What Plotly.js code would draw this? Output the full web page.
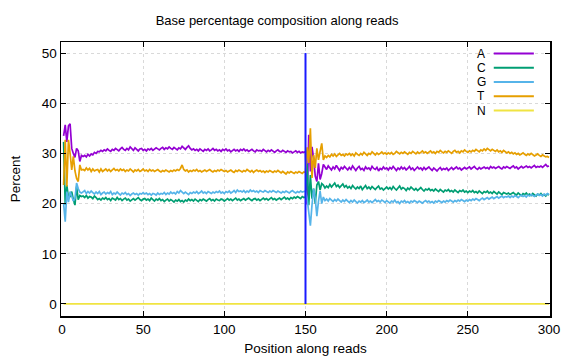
<!DOCTYPE html>
<html>
<head>
<meta charset="utf-8">
<script src="https://cdn.plot.ly/plotly-3.0.1.min.js"></script>
<style>html,body{margin:0;padding:0;background:#fff;}#chart{width:576px;height:360px;}</style>
</head>
<body>
<div id="chart"></div>
<script>
// Positions along reads start at 1 and step by 1
const startPos = 1;
const stepPos = 1;

const baseA = [
33.5,35.7,32.3,35.5,35.9,31.0,30.0,29.2,31.0,30.5,28.4,29.6,29.4,29.6,29.3,29.8,29.5,29.9,29.7,30.2,30.0,30.4,30.3,30.6,30.4,
30.7,30.5,30.9,30.6,30.4,30.8,30.6,31.0,30.7,30.5,30.9,31.2,30.8,30.6,31.0,30.7,31.3,30.9,30.6,31.1,30.8,30.5,30.9,31.0,30.6,
30.8,30.5,30.9,30.7,31.0,30.6,30.8,31.1,30.9,30.7,31.0,31.2,30.8,31.1,30.9,31.3,31.0,30.8,31.2,31.0,30.7,31.1,30.9,31.4,31.0,
30.8,31.2,31.5,31.0,30.7,30.9,30.6,30.8,30.5,30.9,30.7,30.4,30.8,30.6,30.9,30.5,30.7,31.0,30.6,30.8,30.5,30.7,30.4,30.8,30.6,
30.9,30.5,30.7,30.3,30.6,30.8,30.5,30.7,30.4,30.8,30.6,30.9,30.5,30.7,30.4,30.6,30.8,30.5,30.3,30.7,30.5,30.6,30.4,30.8,30.5,
30.3,30.6,30.4,30.7,30.5,30.2,30.5,30.7,30.4,30.3,30.6,30.4,30.2,30.5,30.3,30.4,30.1,30.3,30.5,30.2,30.4,30.1,30.3,30.2,30.4,
19.8,33.7,26.4,31.3,29.0,25.5,24.4,28.0,24.8,26.0,27.8,27.2,26.8,27.5,27.1,26.7,27.3,26.9,27.6,27.0,26.6,27.2,26.9,27.4,27.0,
26.7,27.2,26.8,27.5,27.0,26.6,27.1,27.4,26.8,27.0,26.6,27.3,26.9,27.1,26.7,27.4,27.0,26.8,27.2,26.5,27.0,26.8,27.3,26.9,27.1,
26.7,27.2,26.9,27.4,27.0,26.6,27.1,26.8,27.3,26.9,27.2,26.7,27.0,27.4,26.8,27.1,26.6,27.0,27.3,26.9,27.1,26.7,27.2,26.8,27.0,
27.3,26.9,26.6,27.1,26.8,26.5,26.9,27.2,26.7,27.0,26.8,27.1,26.6,26.9,27.2,26.8,27.0,27.3,26.9,27.1,26.7,27.0,27.2,26.9,27.1,
27.3,26.9,27.1,27.4,27.0,26.8,27.2,26.9,27.1,27.3,27.0,27.2,26.9,27.4,27.1,27.3,27.0,27.2,27.4,27.1,26.9,27.3,27.1,27.4,27.2,
27.0,27.3,27.5,27.1,27.3,26.9,27.2,27.4,27.1,27.3,27.5,27.2,27.4,27.1,27.3,27.6,27.2,27.4,27.3,27.5,27.2,27.6,27.8,27.4,27.5
];

const baseC = [
32.3,19.7,23.7,21.1,21.4,22.4,20.8,19.7,23.4,20.8,21.6,21.4,21.5,21.2,21.6,21.1,21.4,21.3,21.0,21.5,21.2,20.8,21.0,20.7,21.1,
20.9,21.2,20.8,21.0,20.6,21.1,20.9,20.7,21.2,20.8,21.0,20.6,20.9,21.1,20.7,20.9,20.5,20.8,21.0,20.7,20.9,21.2,20.8,20.6,20.9,
21.0,20.7,20.9,20.6,21.1,20.8,20.5,20.9,20.7,21.0,20.6,20.8,20.4,20.7,20.9,20.5,20.8,20.6,20.3,20.7,20.5,20.8,20.4,20.6,20.3,
20.7,20.5,20.9,20.6,20.8,20.5,20.9,20.7,20.4,20.8,20.6,20.9,20.7,20.5,20.8,21.0,20.6,20.8,20.5,20.9,20.7,20.6,20.9,20.8,20.5,
20.8,21.0,20.7,20.9,20.6,20.8,21.1,20.7,20.9,20.6,20.8,21.0,20.7,20.9,21.1,20.8,20.6,20.9,21.0,20.7,20.9,20.6,20.8,21.1,20.8,
21.0,20.7,20.9,21.2,20.8,21.0,20.7,20.9,21.1,20.8,21.0,21.3,20.9,21.1,20.8,21.2,21.0,21.3,21.1,21.4,21.2,21.0,21.4,21.2,21.3,
28.0,19.7,25.7,21.0,23.0,20.0,23.7,24.4,22.7,24.0,23.7,23.1,23.5,23.2,23.8,23.3,23.6,24.1,23.4,23.7,23.2,23.5,23.9,23.3,23.6,
23.1,23.4,23.0,23.6,23.2,22.9,23.3,23.0,23.5,22.8,23.2,23.6,23.0,23.3,22.9,23.4,23.1,22.8,23.2,23.5,22.9,23.1,22.7,23.0,23.3,
22.9,23.2,22.8,23.4,23.0,22.7,23.1,23.5,22.9,23.2,23.0,22.6,23.1,22.8,23.3,22.9,22.7,23.0,22.6,22.9,23.2,22.8,22.5,22.9,22.7,
23.0,22.6,22.8,22.5,22.9,22.7,22.4,22.8,22.6,22.3,22.7,22.5,22.8,22.4,22.6,22.3,22.7,22.5,22.2,22.6,22.4,22.7,22.3,22.5,22.2,
22.5,22.3,22.6,22.2,22.4,22.1,22.5,22.3,22.0,22.4,22.2,22.5,22.1,22.3,22.0,22.4,22.2,21.9,22.3,22.1,21.8,22.2,22.0,21.9,22.1,
21.8,22.0,22.2,21.9,21.7,22.1,21.9,21.6,22.0,21.8,22.1,21.7,21.9,21.6,22.0,21.8,21.5,21.9,21.7,22.0,21.6,21.8,21.5,21.9,21.7
];

const baseG = [
20.1,16.4,22.4,20.3,22.4,21.4,20.5,21.0,24.1,23.0,22.3,22.1,22.3,22.6,22.0,22.4,22.1,22.5,22.2,21.9,22.3,22.0,22.4,21.8,22.1,
22.3,21.9,22.2,22.0,22.4,21.8,22.1,21.9,22.3,22.0,21.7,22.1,21.9,22.2,21.8,22.0,21.6,21.9,22.1,21.8,22.0,21.7,22.0,21.9,22.2,
21.9,22.1,21.8,22.0,21.7,22.0,21.9,21.7,22.1,21.8,22.0,21.9,22.2,21.8,22.1,21.9,22.3,22.0,22.2,21.9,22.4,22.1,22.6,22.2,22.0,
22.3,22.0,21.8,22.2,22.0,22.3,22.1,22.4,22.0,22.2,22.5,22.1,22.3,22.0,22.4,22.2,22.0,22.3,22.1,22.4,22.2,22.5,22.1,22.3,22.0,
22.4,22.2,22.5,22.1,22.3,22.6,22.2,22.7,22.4,22.5,22.3,22.6,22.2,22.5,22.3,22.7,22.4,22.6,22.3,22.5,22.2,22.6,22.4,22.3,22.6,
22.4,22.2,22.5,22.3,22.6,22.4,22.2,22.5,22.3,22.1,22.4,22.2,22.5,22.3,22.1,22.4,22.6,22.3,22.1,22.4,22.2,22.5,22.3,22.4,22.5,
21.0,18.5,15.6,19.7,23.0,21.0,17.5,20.5,22.5,20.0,21.3,20.6,20.9,20.5,21.0,20.7,20.4,20.8,20.5,20.9,20.6,20.3,20.7,20.4,20.8,
20.5,20.2,20.6,20.3,20.7,20.4,20.1,20.5,20.3,20.6,20.2,20.4,20.7,20.3,20.5,20.2,20.6,20.8,20.4,20.6,20.3,20.7,20.5,20.2,20.6,
20.4,20.1,20.5,20.3,20.7,20.2,20.4,20.0,20.5,20.3,20.6,20.2,20.4,20.1,20.5,20.3,20.6,20.4,20.2,20.5,20.3,20.1,20.4,20.6,20.3,
20.5,20.2,20.4,20.1,20.5,20.3,20.6,20.4,20.2,20.5,20.3,20.6,20.4,20.7,20.5,20.3,20.6,20.4,20.7,20.5,20.8,20.6,20.4,20.7,20.5,
20.8,20.6,20.9,20.7,21.0,20.8,20.6,20.9,21.1,20.8,21.0,21.2,20.9,21.1,21.3,21.0,21.2,21.4,21.1,21.3,21.5,21.2,21.4,21.3,21.5,
21.2,21.5,21.3,21.6,21.4,21.2,21.5,21.7,21.4,21.6,21.3,21.7,21.5,21.8,21.6,21.4,21.7,21.9,21.6,21.8,21.5,21.9,21.7,22.0,21.8
];

const baseT = [
23.7,32.7,23.4,32.7,30.0,26.7,29.4,26.5,25.0,24.4,27.7,26.7,26.8,26.6,27.1,26.7,27.0,26.4,26.9,26.5,26.7,26.8,26.3,26.9,26.4,
26.6,26.9,26.5,26.8,26.4,26.7,27.0,26.6,26.8,26.5,26.9,26.6,26.8,26.4,26.7,26.5,26.9,26.6,26.3,26.7,26.5,26.8,26.4,26.6,26.9,
26.5,26.7,26.4,26.8,26.5,26.7,26.4,26.6,26.8,26.5,26.3,26.6,26.4,26.7,26.5,26.3,26.6,26.4,26.7,26.5,26.8,26.6,27.0,27.7,26.8,
26.5,26.7,26.3,26.6,26.4,26.7,26.5,26.8,26.4,26.6,26.3,26.5,26.7,26.4,26.6,26.8,26.5,26.3,26.6,26.4,26.7,26.5,26.8,26.6,26.4,
26.6,26.3,26.5,26.7,26.4,26.2,26.6,26.4,26.7,26.5,26.3,26.6,26.4,26.8,26.5,26.3,26.6,26.2,26.5,26.7,26.4,26.6,26.3,26.5,26.2,
26.5,26.3,26.6,26.4,26.2,26.5,26.3,26.6,26.4,26.1,26.4,26.2,25.9,26.3,26.1,26.4,26.2,26.0,26.3,26.1,26.4,26.2,26.0,26.3,26.2,
31.2,28.1,35.0,25.1,29.7,27.1,31.0,28.7,30.4,32.0,28.7,29.5,29.2,29.6,29.3,29.8,29.5,29.9,29.4,29.7,30.0,29.6,29.8,29.5,29.9,
29.7,30.0,29.6,29.9,29.5,30.1,29.8,29.6,30.0,29.7,30.2,29.9,29.6,30.0,29.8,30.3,29.9,29.7,30.1,29.8,30.0,30.3,29.9,30.1,29.8,
30.1,29.9,30.2,29.8,30.0,30.4,30.1,29.9,30.2,30.0,30.3,30.1,29.8,30.2,30.0,30.4,30.1,29.9,30.3,30.0,30.2,30.5,30.1,30.3,30.0,
30.2,30.5,30.1,30.3,30.0,30.4,30.2,30.6,30.3,30.1,30.4,30.2,30.5,30.3,30.0,30.4,30.6,30.2,30.4,30.1,30.5,30.3,30.7,30.4,30.2,
30.5,30.3,30.6,30.4,30.8,30.5,30.3,30.7,30.5,30.9,30.6,31.0,30.7,30.5,30.8,30.6,30.4,30.7,30.3,30.5,30.2,30.6,30.4,30.1,30.3,
30.0,30.2,29.9,30.1,29.8,30.0,29.7,29.9,30.1,29.8,29.6,29.9,29.7,30.0,29.8,29.5,29.7,29.9,29.6,29.4,29.7,29.5,29.3,29.4,29.2
];

const baseN = [
0,0,0,0,0,0,0,0,0,0,0,0,0,0,0,0,0,0,0,0,0,0,0,0,0,0,0,0,0,0,
0,0,0,0,0,0,0,0,0,0,0,0,0,0,0,0,0,0,0,0,0,0,0,0,0,0,0,0,0,0,
0,0,0,0,0,0,0,0,0,0,0,0,0,0,0,0,0,0,0,0,0,0,0,0,0,0,0,0,0,0,
0,0,0,0,0,0,0,0,0,0,0,0,0,0,0,0,0,0,0,0,0,0,0,0,0,0,0,0,0,0,
0,0,0,0,0,0,0,0,0,0,0,0,0,0,0,0,0,0,0,0,0,0,0,0,0,0,0,0,0,0,
0,0,0,0,0,0,0,0,0,0,0,0,0,0,0,0,0,0,0,0,0,0,0,0,0,0,0,0,0,0,
0,0,0,0,0,0,0,0,0,0,0,0,0,0,0,0,0,0,0,0,0,0,0,0,0,0,0,0,0,0,
0,0,0,0,0,0,0,0,0,0,0,0,0,0,0,0,0,0,0,0,0,0,0,0,0,0,0,0,0,0,
0,0,0,0,0,0,0,0,0,0,0,0,0,0,0,0,0,0,0,0,0,0,0,0,0,0,0,0,0,0,
0,0,0,0,0,0,0,0,0,0,0,0,0,0,0,0,0,0,0,0,0,0,0,0,0,0,0,0,0,0
];

// Read-pair boundary marker
const splitX = [150, 150];
const splitY = [0, 50];

const seriesNames = ['A', 'C', 'G', 'T', 'N'];
const seriesData = [baseA, baseC, baseG, baseT, baseN];
const seriesColors = ['#9400d3', '#009e73', '#56b4e9', '#e69f00', '#f0e442'];

const traces = seriesData.map((vals, i) => ({
  type: 'scatter', mode: 'lines', name: seriesNames[i],
  x0: startPos, dx: stepPos, y: vals,
  line: {color: seriesColors[i], width: 1.7},
  showlegend: false, hoverinfo: 'skip'
}));
traces.push({
  type: 'scatter', mode: 'lines', x: splitX, y: splitY,
  line: {color: '#1a1aff', width: 2}, showlegend: false, hoverinfo: 'skip'
});

const fam = 'Liberation Sans, Arial, sans-serif';
const font = {family: fam, size: 13.5, color: '#000'};

// custom gnuplot-style key: label then line sample
const keyX = 0.859, keyL0 = 0.885, keyL1 = 0.967;
const keyY = [0.958, 0.906, 0.854, 0.802, 0.750];
const annotations = seriesNames.map((n, i) => ({
  xref: 'paper', yref: 'paper', x: keyX, y: keyY[i], text: n,
  showarrow: false, xanchor: 'center', yanchor: 'middle',
  borderpad: 0,
  font: {family: fam, size: 12, color: '#000'}
}));
const shapes = seriesNames.map((n, i) => ({
  type: 'line', xref: 'paper', yref: 'paper', x0: keyL0, x1: keyL1, y0: keyY[i], y1: keyY[i],
  line: {color: seriesColors[i], width: 2}
}));

const axisCommon = {
  showline: true, linecolor: '#000', linewidth: 1.5, mirror: 'allticks',
  ticks: 'inside', ticklen: 5, tickwidth: 1, tickcolor: '#000',
  showgrid: true, gridcolor: '#d9d9d9', griddash: 'dot', gridwidth: 1,
  zeroline: false, tickfont: font
};

const layout = {
  width: 576, height: 360,
  margin: {l: 61, r: 26, t: 42, b: 44},
  paper_bgcolor: '#fff', plot_bgcolor: '#fff',
  font: font,
  title: {text: 'Base percentage composition along reads', font: {family: fam, size: 13, color: '#000'},
          x: 0.481, xref: 'container', xanchor: 'center', y: 0.944, yref: 'container', yanchor: 'middle'},
  xaxis: Object.assign({}, axisCommon, {
    range: [-0.6, 300.6], tickvals: [0, 50, 100, 150, 200, 250, 300],
    title: {text: 'Position along reads', font: font, standoff: 8}
  }),
  yaxis: Object.assign({}, axisCommon, {
    range: [-2.4, 52.2], tickvals: [0, 10, 20, 30, 40, 50],
    title: {text: 'Percent', font: font, standoff: 18}
  }),
  annotations: annotations,
  shapes: shapes
};

Plotly.newPlot('chart', traces, layout, {staticPlot: true, displayModeBar: false});
</script>
</body>
</html>
